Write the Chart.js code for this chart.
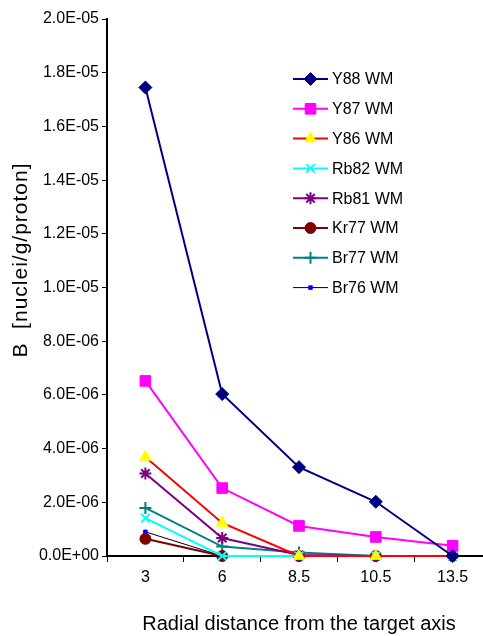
<!DOCTYPE html>
<html>
<head>
<meta charset="utf-8">
<script src="https://cdn.jsdelivr.net/npm/chart.js@4.4.1/dist/chart.umd.min.js"></script>
<style>
  html, body { margin: 0; padding: 0; background: #fff; }
  #wrap { width: 483px; height: 636px; overflow: hidden; position: relative; }
  canvas { display: block; }
</style>
</head>
<body>
<div id="wrap"><canvas id="c" width="500" height="636"></canvas></div>
<script>
// distances radiales (catégories) et rendements B par isotope
const radii = ['3', '6', '8.5', '10.5', '13.5'];
const y88  = [1.745e-5, 6.03e-6, 3.31e-6, 2.02e-6, 0];
const y87  = [6.52e-6, 2.53e-6, 1.12e-6, 0.71e-6, 0.38e-6];
const y86  = [3.69e-6, 1.23e-6, 0, 0, 0];
const rb82 = [1.41e-6, 0, 0, 0, 0];
const rb81 = [3.07e-6, 0.67e-6, 0.04e-6, 0, 0];
const kr77 = [0.64e-6, 0, 0, 0, 0];
const br77 = [1.79e-6, 0.35e-6, 0.13e-6, 0, 0];
const br76 = [0.90e-6, 0, 0, 0, 0];
const yMax = 2e-5, yStep = 2e-6;

const FONT = "'Liberation Sans', Arial, sans-serif";
const STROKED = ['star', 'cross', 'crossRot'];

function ds(label, data, line, fill, style, r, w = 2) {
  const thin = STROKED.includes(style);
  return {
    label, data, borderColor: line, backgroundColor: fill, borderWidth: w,
    pointStyle: style, pointRadius: r, pointHoverRadius: r,
    pointBorderColor: fill, pointBackgroundColor: fill, pointBorderWidth: thin ? 2 : 1,
    tension: 0, clip: false,
  };
}

function sci(v) {
  if (Math.abs(v) < 1e-12) return '0.0E+00';
  const [m, e] = v.toExponential(1).split('e');
  const n = parseInt(e, 10);
  return m + 'E' + (n < 0 ? '-' : '+') + String(Math.abs(n)).padStart(2, '0');
}

// légende dessinée dans la zone du graphe, comme sous Excel
const legendBox = {
  id: 'legendBox',
  afterDraw(chart) {
    const ctx = chart.ctx;
    ctx.save();
    chart.data.datasets.forEach((d, i) => {
      const y = 79 + i * 29.8;
      ctx.strokeStyle = d.borderColor; ctx.lineWidth = d.borderWidth;
      ctx.beginPath(); ctx.moveTo(293, y); ctx.lineTo(328, y); ctx.stroke();
      ctx.fillStyle = d.pointBackgroundColor; ctx.strokeStyle = d.pointBorderColor; ctx.lineWidth = d.pointBorderWidth;
      Chart.helpers.drawPoint(ctx, { pointStyle: d.pointStyle, radius: d.pointRadius, rotation: 0, borderWidth: d.pointBorderWidth }, 310.5, y);
      ctx.fillStyle = '#000'; ctx.font = '16px ' + FONT; ctx.textBaseline = 'middle'; ctx.textAlign = 'left';
      ctx.fillText(d.label, 332, y + 1);
    });
    // titre de l'axe vertical
    ctx.translate(21, 260); ctx.rotate(-Math.PI / 2);
    ctx.fillStyle = '#000'; ctx.font = '21px ' + FONT; ctx.letterSpacing = '1px';
    ctx.textAlign = 'center'; ctx.textBaseline = 'middle';
    ctx.fillText('B  [nuclei/g/proton]', 0, 0);
    ctx.restore();
  },
};

new Chart(document.getElementById('c').getContext('2d'), {
  type: 'line',
  data: {
    labels: radii,
    datasets: [
      ds('Y88 WM', y88, '#000080', '#000080', 'rectRot', 6.5),
      ds('Y87 WM', y87, '#ff00ff', '#ff00ff', 'rect', 7.5),
      ds('Y86 WM', y86, '#ff0000', '#ffff00', 'triangle', 6.5),
      ds('Rb82 WM', rb82, '#00ffff', '#00ffff', 'crossRot', 6),
      ds('Rb81 WM', rb81, '#800080', '#800080', 'star', 6),
      ds('Kr77 WM', kr77, '#800000', '#800000', 'circle', 5.5),
      ds('Br77 WM', br77, '#008080', '#008080', 'cross', 6),
      ds('Br76 WM', br76, '#000000', '#0000ff', 'rect', 2.5, 1),
    ],
  },
  options: {
    responsive: false, animation: false,
    layout: { padding: { top: 19, right: 9, left: 0, bottom: 0 } },
    plugins: { legend: { display: false }, tooltip: { enabled: false } },
    scales: {
      x: {
        type: 'category', offset: true,
        grid: { offset: true, drawOnChartArea: false, drawTicks: true, tickLength: 6, color: '#000', lineWidth: 1 },
        border: { display: true, color: '#000', width: 2 },
        ticks: { color: '#000', font: { family: FONT, size: 16 }, padding: 6, maxRotation: 0 },
        title: { display: true, text: 'Radial distance from the target axis', color: '#000', font: { family: FONT, size: 20 }, padding: { top: 18, bottom: 0 } },
        afterFit: (s) => { s.height = 80; },
      },
      y: {
        min: 0, max: yMax,
        grid: { drawOnChartArea: false, drawTicks: true, tickLength: 5, color: '#000', lineWidth: 1 },
        border: { display: true, color: '#000', width: 2 },
        ticks: { stepSize: yStep, color: '#000', font: { family: FONT, size: 16 }, padding: 3, callback: (v) => sci(v) },
        afterFit: (s) => { s.width = 107; },
      },
    },
  },
  plugins: [legendBox],
});
</script>
</body>
</html>
